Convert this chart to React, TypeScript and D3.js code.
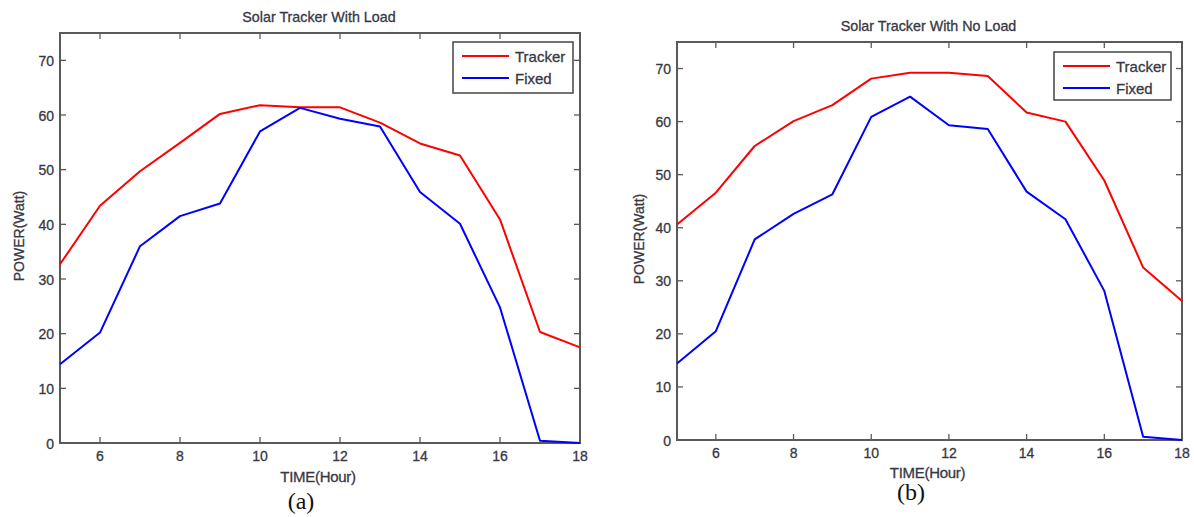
import React, { useEffect, useRef } from 'react';
import * as d3 from 'd3';

// hours on the x axis
const hours = [5, 6, 7, 8, 9, 10, 11, 12, 13, 14, 15, 16, 17, 18];
// (a) with load
const trackerLoad = [32.7, 43.4, 49.7, 54.9, 60.2, 61.8, 61.4, 61.4, 58.6, 54.8, 52.6, 40.9, 20.3, 17.5];
const fixedLoad = [14.4, 20.2, 36.0, 41.5, 43.8, 57.0, 61.3, 59.3, 57.9, 45.9, 40.1, 24.8, 0.4, 0];
// (b) no load
const trackerNoLoad = [40.6, 46.6, 55.4, 60.1, 63.1, 68.1, 69.2, 69.2, 68.6, 61.7, 60.0, 48.9, 32.5, 26.2];
const fixedNoLoad = [14.4, 20.5, 37.8, 42.6, 46.3, 60.9, 64.7, 59.3, 58.6, 46.8, 41.6, 28.1, 0.6, 0];

const xTicks = [6, 8, 10, 12, 14, 16, 18];
const yTicks = [0, 10, 20, 30, 40, 50, 60, 70];
const seriesNames = ['Tracker', 'Fixed'];
const seriesColors = ['#ff0000', '#0000ff'];

const panels = [
  {
    title: 'Solar Tracker With Load', tag: '(a)', tracker: trackerLoad, fixed: fixedLoad,
    left: 60, right: 580, top: 33, bottom: 443, titleY: 22, xLabY: 482, tickY: 461, tagY: 509, tagX: 301,
    yLabX: 24, legend: { x: 453, y: 42, w: 120, h: 51 },
  },
  {
    title: 'Solar Tracker With No Load', tag: '(b)', tracker: trackerNoLoad, fixed: fixedNoLoad,
    left: 677, right: 1182, top: 42, bottom: 440, titleY: 31, xLabY: 478, tickY: 458, tagY: 500, tagX: 911,
    yLabX: 644, legend: { x: 1054, y: 52, w: 117, h: 48 },
  },
];

function App() {
  const ref = useRef<SVGSVGElement>(null);

  useEffect(() => {
    const svg = d3.select(ref.current);
    svg.selectAll('*').remove();
    const font = 'Arial, "Liberation Sans", sans-serif';
    const axisCol = '#5a5a5a';
    const textCol = '#383844';

    const txt = (g: any, x: number, y: number, s: string | number, size: number, anchor = 'middle') =>
      g.append('text').attr('x', x).attr('y', y).attr('text-anchor', anchor)
        .attr('font-family', font).attr('font-size', size)
        .attr('fill', textCol).attr('stroke', textCol).attr('stroke-width', 0.3)
        .text(s);

    panels.forEach(p => {
      const g = svg.append('g');
      const x = d3.scaleLinear().domain([5, 18]).range([p.left, p.right]);
      const y = d3.scaleLinear().domain([0, 75]).range([p.bottom, p.top]);

      // box
      g.append('rect')
        .attr('x', p.left).attr('y', p.top)
        .attr('width', p.right - p.left).attr('height', p.bottom - p.top)
        .attr('fill', 'white').attr('stroke', axisCol).attr('stroke-width', 2);

      // ticks inward on all four sides
      const tl = 6;
      xTicks.forEach(t => {
        g.append('line').attr('x1', x(t)).attr('x2', x(t)).attr('y1', p.bottom).attr('y2', p.bottom - tl).attr('stroke', axisCol).attr('stroke-width', 1.3);
        g.append('line').attr('x1', x(t)).attr('x2', x(t)).attr('y1', p.top).attr('y2', p.top + tl).attr('stroke', axisCol).attr('stroke-width', 1.3);
        txt(g, x(t), p.tickY, t, 14);
      });
      yTicks.forEach(t => {
        g.append('line').attr('x1', p.left).attr('x2', p.left + tl).attr('y1', y(t)).attr('y2', y(t)).attr('stroke', axisCol).attr('stroke-width', 1.3);
        g.append('line').attr('x1', p.right).attr('x2', p.right - tl).attr('y1', y(t)).attr('y2', y(t)).attr('stroke', axisCol).attr('stroke-width', 1.3);
        txt(g, p.left - 6, y(t) + 5.5, t, 14, 'end');
      });

      // lines
      const line = d3.line<number>().x((d, i) => x(hours[i])).y(d => y(d));
      [p.tracker, p.fixed].forEach((vals, i) => {
        g.append('path').datum(vals).attr('d', line)
          .attr('fill', 'none').attr('stroke', seriesColors[i]).attr('stroke-width', 2)
          .attr('stroke-linejoin', 'round');
      });

      // legend
      const lg = g.append('g');
      lg.append('rect').attr('x', p.legend.x).attr('y', p.legend.y)
        .attr('width', p.legend.w).attr('height', p.legend.h)
        .attr('fill', 'white').attr('stroke', '#444').attr('stroke-width', 1.5);
      seriesNames.forEach((name, i) => {
        const ly = p.legend.y + 14 + i * 22;
        lg.append('line').attr('x1', p.legend.x + 9).attr('x2', p.legend.x + 56)
          .attr('y1', ly).attr('y2', ly).attr('stroke', seriesColors[i]).attr('stroke-width', 2.2);
        txt(lg, p.legend.x + 62, ly + 5.5, name, 15, 'start');
      });

      // titles and labels
      const cx = (p.left + p.right) / 2;
      txt(g, cx - 1, p.titleY, p.title, 14.3);
      txt(g, cx - 2, p.xLabY, 'TIME(Hour)', 15).attr('letter-spacing', -0.3);
      txt(g, 0, 0, 'POWER(Watt)', 14)
        .attr('transform', `translate(${p.yLabX},${(p.top + p.bottom) / 2 - 2}) rotate(-90)`);
      g.append('text').attr('x', p.tagX).attr('y', p.tagY).attr('text-anchor', 'middle')
        .attr('font-family', '"Liberation Serif", "Times New Roman", serif').attr('font-size', 24)
        .attr('fill', '#111').text(p.tag);
    });
  }, []);

  return (
    <svg ref={ref} width={1194} height={517}
      style={{ position: 'absolute', left: 0, top: 0, background: 'white' }} />
  );
}

export default App;
